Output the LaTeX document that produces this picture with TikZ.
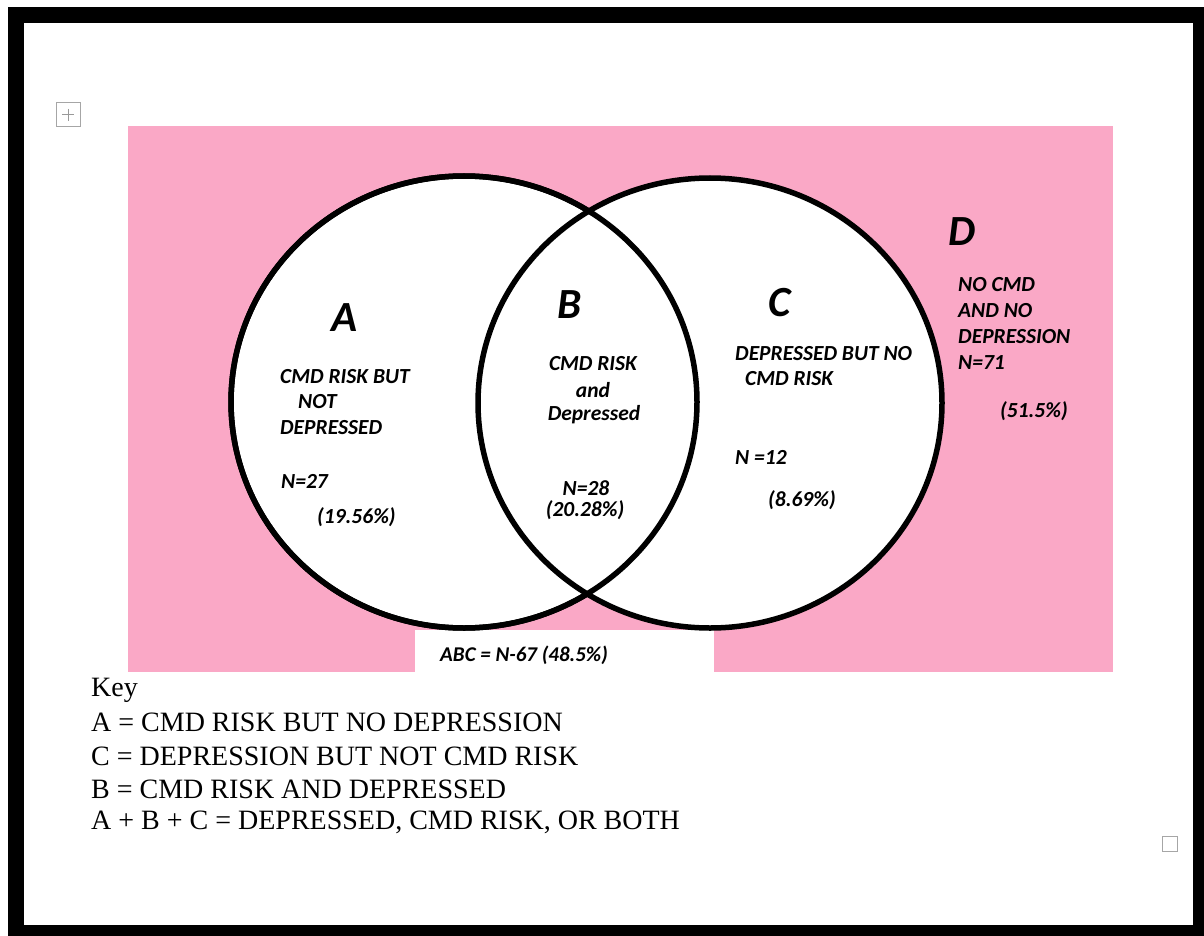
\documentclass[tikz,border=0pt]{standalone}
\usepackage{fontspec}
\setmainfont{Liberation Serif}
\newfontfamily\callfont{Carlito}
\usepackage{xcolor}
\usepackage{tikz}
\definecolor{vennpink}{RGB}{250,168,198}

\begin{document}
\begin{tikzpicture}[x=1pt, y=-1pt,
        lbl/.style={font=\callfont\bfseries\itshape\fontsize{21.5}{25}\selectfont, inner sep=0pt},
        big/.style={font=\callfont\bfseries\itshape\fontsize{43}{50}\selectfont, inner sep=0pt},
        keyline/.style={font=\fontsize{28}{33}\selectfont, anchor=west, inner sep=0pt}]
        \useasboundingbox (0,0) rectangle (1204,936);

        % Page frame
        \fill[black] (8,7) rectangle (1204,936);
        \fill[white] (24,23) rectangle (1193,925);
        \draw[gray!70, line width=1pt] (56,103) rectangle (80,127);
        \draw[gray!70, line width=1pt] (1162,836) rectangle (1177,851);
        \draw[gray!80, line width=1pt] (62,115) -- (74,115) (68,109) -- (68,121);

        % Background D
        \fill[vennpink] (128,126) rectangle (1113,672);
        \fill[white] (415,630) rectangle (714,672);

        % Circles
        \draw[line width=5.5pt, fill=white] (464,402) ellipse [x radius=233, y radius=226];
        \draw[line width=5.5pt, fill=white] (710,403) ellipse [x radius=232, y radius=225];
        \draw[line width=5.5pt] (464,402) ellipse [x radius=233, y radius=226];

        % Region A
        \node[big] (letA) at (345,318) {A};
        \node[lbl, anchor=west] (a1) at (280,377) {CMD RISK BUT};
        \node[lbl, anchor=west] (a2) at (298,402) {NOT};
        \node[lbl, anchor=west] (a3) at (280,428) {DEPRESSED};
        \node[lbl, anchor=west] (a4) at (281,481) {N=27};
        \node[lbl, anchor=west] (a5) at (317,517) {(19.56\%)};

        % Region B
        \node[big] (letB) at (570,305) {B};
        \node[lbl] (b1) at (593,364) {CMD RISK};
        \node[lbl] (b2) at (593,390) {and};
        \node[lbl] (b3) at (594,415) {Depressed};
        \node[lbl] (b4) at (586,488) {N=28};
        \node[lbl] (b5) at (585,510) {(20.28\%)};

        % Region C
        \node[big] (letC) at (780,303) {C};
        \node[lbl, anchor=west] (c1) at (735,354) {DEPRESSED BUT NO};
        \node[lbl, anchor=west] (c2) at (745,379) {CMD RISK};
        \node[lbl, anchor=west] (c3) at (735,457) {N =12};
        \node[lbl, anchor=west] (c4) at (768,500) {(8.69\%)};

        % Region D
        \node[big] (letD) at (962,232) {D};
        \node[lbl, anchor=west] (d1) at (958,285) {NO CMD};
        \node[lbl, anchor=west] (d2) at (958,311) {AND NO};
        \node[lbl, anchor=west] (d3) at (958,337) {DEPRESSION};
        \node[lbl, anchor=west] (d4) at (958,363) {N=71};
        \node[lbl, anchor=west] (d5) at (1000,411) {(51.5\%)};

        % Total
        \node[lbl, font=\callfont\bfseries\itshape\fontsize{21}{24}\selectfont] (abc) at (524,655) {ABC = N-67 (48.5\%)};

        % Key
        \node[keyline] (key) at (91,690) {Key};
        \node[keyline] (k1) at (91,722) {A = CMD RISK BUT NO DEPRESSION};
        \node[keyline] (k2) at (91,756) {C = DEPRESSION BUT NOT CMD RISK};
        \node[keyline] (k3) at (91,789) {B = CMD RISK AND DEPRESSED};
        \node[keyline] (k4) at (91,822) {A + B + C = DEPRESSED, CMD RISK, OR BOTH};
    \end{tikzpicture}
\end{document}
